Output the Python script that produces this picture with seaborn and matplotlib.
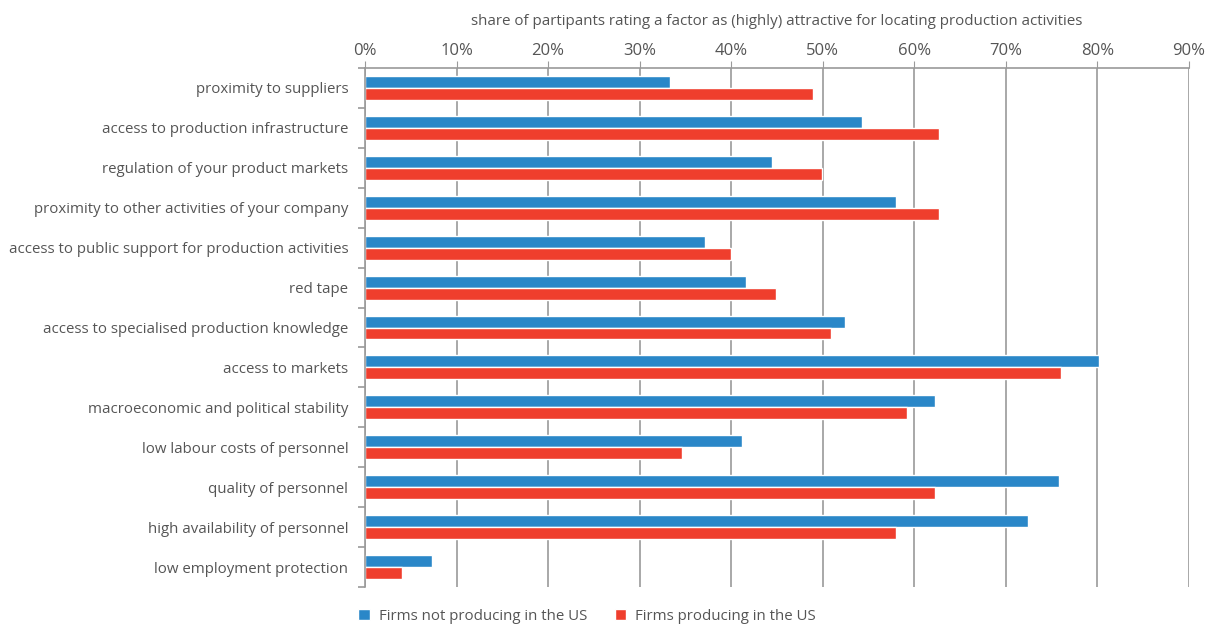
import numpy as np
import pandas as pd
import matplotlib
matplotlib.use("Agg")
import matplotlib.pyplot as plt
import seaborn as sns
from matplotlib.ticker import PercentFormatter, FixedLocator
from matplotlib.patches import Patch

# factors (top to bottom as in the chart)
factors = [
    "proximity to suppliers",
    "access to production infrastructure",
    "regulation of your product markets",
    "proximity to other activities of your company",
    "access to public support for production activities",
    "red tape",
    "access to specialised production knowledge",
    "access to markets",
    "macroeconomic and political stability",
    "low labour costs of personnel",
    "quality of personnel",
    "high availability of personnel",
    "low employment protection",
]
not_us = [0.333, 0.543, 0.445, 0.580, 0.371, 0.416, 0.524, 0.802, 0.623, 0.412, 0.758, 0.724, 0.073]
in_us = [0.489, 0.627, 0.499, 0.627, 0.400, 0.449, 0.509, 0.760, 0.592, 0.346, 0.623, 0.580, 0.040]
groups = ["Firms not producing in the US", "Firms producing in the US"]
colors = ["#2a87c8", "#ef3e2d"]

df = pd.DataFrame({
    "factor": factors * 2,
    "share": not_us + in_us,
    "group": [groups[0]] * len(factors) + [groups[1]] * len(factors),
})

sns.set_style("white")
plt.rcParams["font.family"] = ["Open Sans", "DejaVu Sans"]
text_col = "#555555"
grid_col = "#9a9a9a"

fig = plt.figure(figsize=(12.13, 6.25), dpi=100)
ax = fig.add_axes([365 / 1213, 1 - 587 / 625, (1189 - 365) / 1213, (587 - 68) / 625])

sns.barplot(data=df, x="share", y="factor", hue="group", palette=colors,
            orient="h", width=0.6, ax=ax, legend=False, saturation=1)

ax.set_xlim(0, 0.9)
ax.set_ylim(len(factors) - 0.5, -0.5)
ax.xaxis.set_major_locator(FixedLocator(np.arange(0, 0.91, 0.1)))
ax.xaxis.set_major_formatter(PercentFormatter(1.0, decimals=0))
ax.xaxis.tick_top()
ax.xaxis.set_label_position("top")
ax.set_xlabel("share of partipants rating a factor as (highly) attractive for locating production activities",
              fontsize=10.9, color=text_col, labelpad=13)
ax.set_ylabel("")
ax.grid(axis="x", color=grid_col, linewidth=1.2)
ax.set_axisbelow(True)

for s in ["bottom", "right"]:
    ax.spines[s].set_visible(False)
for s in ["top", "left"]:
    ax.spines[s].set_color(grid_col)
    ax.spines[s].set_linewidth(1.2)

ax.tick_params(axis="x", which="major", top=True, direction="out", length=5,
               color=grid_col, labelsize=12, labelcolor=text_col, pad=1.5)
ax.tick_params(axis="y", which="major", length=0, labelsize=10.8, labelcolor=text_col, pad=12)
ax.yaxis.set_minor_locator(FixedLocator(np.arange(-0.5, len(factors), 1.0)))
ax.tick_params(axis="y", which="minor", left=True, length=5, color=grid_col, width=1.2)

handles = [Patch(facecolor=c, label=g) for c, g in zip(colors, groups)]
fig.legend(handles=handles, loc="lower center", bbox_to_anchor=(0.484, -0.02), ncol=2,
           frameon=False, fontsize=10.8, labelcolor=text_col, handlelength=0.75,
           handleheight=0.75, handletextpad=0.6, columnspacing=1.85)

fig.savefig("out.png", dpi=100)
